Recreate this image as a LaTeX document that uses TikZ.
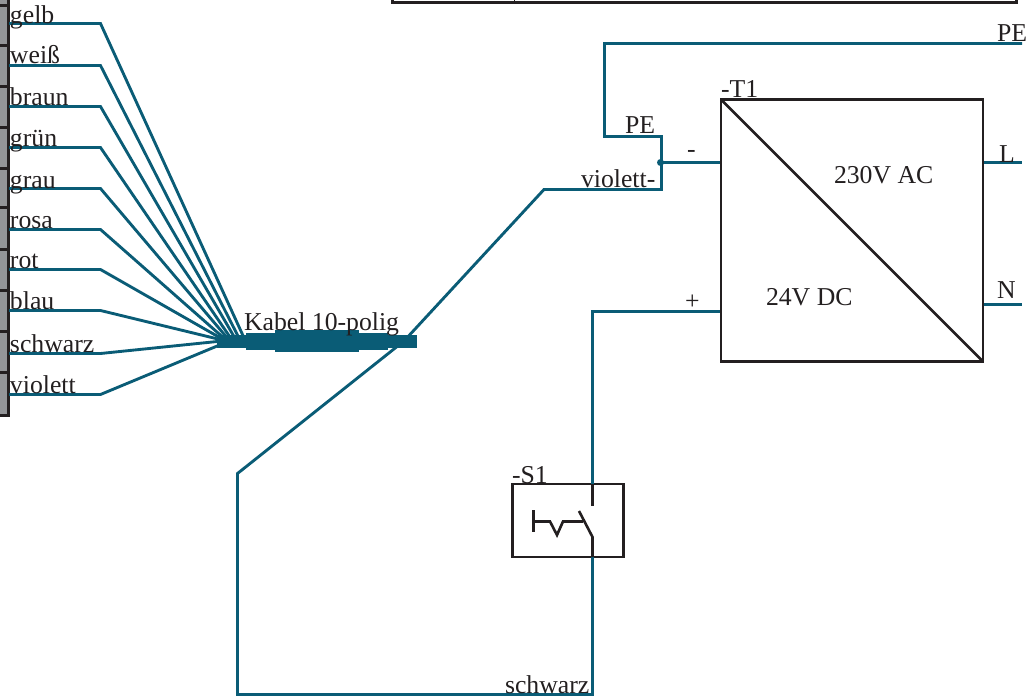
\documentclass[tikz,border=0pt]{standalone}
\usepackage{fontspec}
\setmainfont{Liberation Serif}
\definecolor{wirecol}{HTML}{0A5C76}
\definecolor{inkcol}{HTML}{231F20}
\definecolor{cellcol}{HTML}{939598}
\tikzset{
  wire/.style={draw=wirecol,line width=2.15pt,line join=miter},
  ink/.style={draw=inkcol,line width=1.95pt,line join=miter},
  cell/.style={draw=inkcol,fill=cellcol,line width=2pt},
  bundle/.style={fill=wirecol,draw=none},
  lbl/.style={anchor=base west,inner sep=0pt,outer sep=0pt,text=inkcol,font=\fontsize{19.3pt}{21pt}\selectfont},
}
\begin{document}
\begin{tikzpicture}[x=0.75pt,y=-0.75pt]
\useasboundingbox (0,0) rectangle (1033,699);
% terminal strip
\foreach \ya/\yb in {-6/5.5,5.5/45.5,45.5/86.5,86.5/127.5,127.5/168.5,168.5/207.5,207.5/249.5,249.5/290.5,290.5/331.5,331.5/372.5,372.5/415.5}{
  \draw[cell] (-6,\ya) rectangle (8.5,\yb);
}
% top frame
\draw[ink] (392.5,-6) -- (392.5,2.5) -- (1016.5,2.5) -- (1016.5,-6);
\draw[draw=inkcol,line width=0.8pt] (514.5,-3) -- (514.5,2);
% harness
\foreach \n/\y/\hx/\hy in {a/23.5/245/340,b/65.5/240/340,c/106.5/236/340,d/147.5/232/340,e/188.5/229/340,f/229.5/226/340,g/269.5/224/340,h/310.5/222/340,i/353.5/222/341,j/394.5/222/344}{
  \coordinate (s\n) at (9,\y);
  \coordinate (k\n) at (100.5,\y);
  \coordinate (h\n) at (\hx,\hy);
  \draw[wire] (s\n) -- (k\n) -- (h\n);
}
% cable bundle
\fill[bundle] (217,335) rectangle (417,347.5);
\fill[bundle] (246,332.5) rectangle (388,350);
\fill[bundle] (275,330) rectangle (359,352);
% T1
\node[ink,minimum width=196.5pt,minimum height=196.5pt,inner sep=0pt,outer sep=0pt] (T1) at (852,230.5) {};
\draw[ink] (T1.north west) -- (T1.south east);
% S1
\node[ink,minimum width=83.25pt,minimum height=54.75pt,inner sep=0pt,outer sep=0pt] (S1) at (568,520.5) {};
% wire coordinates
\coordinate (pe) at (1022,43.5);
\coordinate (pea) at (604.5,43.5);
\coordinate (peb) at (604.5,136.5);
\coordinate (pec) at (661.5,136.5);
\coordinate (dot) at (660.5,162.5);
\coordinate (vioc) at (661.5,189.5);
\coordinate (viob) at (544,189.5);
\coordinate (bend) at (404,341);
\coordinate (low) at (237.5,473.5);
\coordinate (lowb) at (237.5,694.5);
\coordinate (botr) at (592.5,694.5);
\coordinate (sbot) at (592.5,557);
\coordinate (stop) at (592.5,484);
\coordinate (plusa) at (592.5,311.5);
\coordinate (plusb) at (720,311.5);
\coordinate (minus) at (720,162.5);
\coordinate (Lend) at (1022,162.5);
\coordinate (Lstart) at (984,162.5);
\coordinate (Nend) at (1022,304.5);
\coordinate (Nstart) at (984,304.5);
% wires
\draw[wire] (pe) -- (pea) -- (peb) -- (pec) -- (vioc) -- (viob) -- (bend) -- (low) -- (lowb) -- (botr) -- (sbot);
\draw[wire] (stop) -- (plusa) -- (plusb);
\draw[wire] (dot) -- (minus);
\fill[wirecol] (dot) circle (3.5);
\draw[wire] (Lstart) -- (Lend);
\draw[wire] (Nstart) -- (Nend);
% switch symbol
\coordinate (c1) at (592.5,506);
\coordinate (c2) at (579,511);
\coordinate (c3) at (592.5,537);
\draw[ink] (stop) -- (c1);
\draw[ink] (c2) -- (c3) -- (sbot);
\coordinate (p1) at (533.5,510);
\coordinate (p2) at (533.5,532);
\coordinate (p3) at (533.5,521.5);
\coordinate (p4) at (550,521.5);
\coordinate (p5) at (557,535);
\coordinate (p6) at (563,521.5);
\coordinate (p7) at (583,521.5);
\draw[ink] (p1) -- (p2);
\draw[ink] (p3) -- (p4) -- (p5) -- (p6) -- (p7);
% labels
\node[lbl] (l1) at (10,23.5) {gelb};
\node[lbl] (l2) at (10,63.5) {weiß};
\node[lbl] (l3) at (10,105.5) {braun};
\node[lbl] (l4) at (10,146.5) {grün};
\node[lbl] (l5) at (10,188.5) {grau};
\node[lbl] (l6) at (10,228.5) {rosa};
\node[lbl] (l7) at (10,268.5) {rot};
\node[lbl] (l8) at (10,309.5) {blau};
\node[lbl] (l9) at (10,352.5) {schwarz};
\node[lbl] (l10) at (10,393.5) {violett};
\node[lbl] (kabel) at (244,330.5) {Kabel 10-polig};
\node[lbl] (lpe1) at (997,42) {PE};
\node[lbl] (lpe2) at (625,133) {PE};
\node[lbl] (lvio) at (581,187) {violett-};
\node[lbl] (lminus) at (687,157) {-};
\node[lbl] (lplus) at (685,309) {+};
\node[lbl] (lt1) at (721,98) {-T1};
\node[lbl] (lac) at (834,184) {230V AC};
\node[lbl] (ldc) at (766,305) {24V DC};
\node[lbl] (lL) at (999,162) {L};
\node[lbl] (lN) at (997,298) {N};
\node[lbl] (ls1) at (512,483) {-S1};
\node[lbl] (lsw) at (505,693.5) {schwarz};
\end{tikzpicture}
\end{document}
